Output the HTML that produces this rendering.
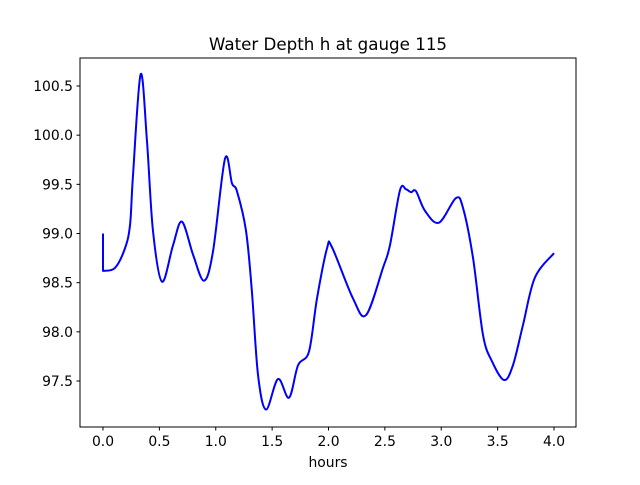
<!DOCTYPE html>
<html><head><meta charset="utf-8"><style>
body{margin:0;background:#fff}
svg text{font-family:"DejaVu Sans","Liberation Sans",sans-serif;fill:#000}
</style></head><body>
<svg id="chart" width="640" height="480">
<rect width="640" height="480" fill="#fff"/>
<text x="328" y="50" text-anchor="middle" font-size="16.7">Water Depth h at gauge 115</text>
<g id="ticks"></g>
<path id="line" fill="none" stroke="#0000ff" stroke-width="2" stroke-linejoin="round"/>
<rect x="80" y="58" width="496" height="369" fill="none" stroke="#000" stroke-width="1"/>
<text x="328" y="467" text-anchor="middle" font-size="13.9">hours</text>
</svg>
<script>
const hours=[0,0,0.106,0.195,0.24,0.266,0.334,0.39,0.443,0.523,0.621,0.70,0.80,0.896,0.976,1.082,1.144,1.188,1.268,1.32,1.375,1.446,1.552,1.65,1.73,1.827,1.898,1.987,2.031,2.217,2.333,2.483,2.545,2.634,2.687,2.732,2.776,2.856,2.98,3.13,3.193,3.282,3.37,3.45,3.557,3.636,3.725,3.83,4.0];
const depth=[99.0,98.62,98.65,98.85,99.09,99.59,100.62,99.94,99.03,98.51,98.88,99.12,98.78,98.52,98.82,99.76,99.51,99.43,99.03,98.42,97.56,97.21,97.52,97.33,97.66,97.80,98.34,98.85,98.86,98.34,98.17,98.65,98.88,99.44,99.45,99.42,99.43,99.23,99.11,99.36,99.26,98.75,97.97,97.70,97.51,97.66,98.07,98.55,98.80];
const xTicks=[0,0.5,1,1.5,2,2.5,3,3.5,4];
const yTicks=[97.5,98,98.5,99,99.5,100,100.5];
const X=v=>103+v*112.75;
const Y=v=>86+(100.5-v)*98.33;
const ns="http://www.w3.org/2000/svg";
const g=document.getElementById('ticks');
function mk(t,a){const e=document.createElementNS(ns,t);for(const k in a)e.setAttribute(k,a[k]);g.appendChild(e);return e;}
xTicks.forEach(v=>{
 const l=mk('line',{x1:X(v),x2:X(v),y1:427,y2:430.5,stroke:'#000'});
 
 
 const t=mk('text',{x:X(v),y:446,'text-anchor':'middle','font-size':'13.9'});
 
 
 t.textContent=v.toFixed(1);
});
yTicks.forEach(v=>{
 const l=mk('line',{x1:76.5,x2:80,y1:Y(v),y2:Y(v),stroke:'#000'});
 
 
 const t=mk('text',{x:73,y:Y(v)+5,'text-anchor':'end','font-size':'13.9'});
 
 
 t.textContent=v.toFixed(1);
});
const P=hours.map((h,i)=>[X(h),Y(depth[i])]);
let d=`M${P[0][0]},${P[0][1]} L${P[1][0]},${P[1][1]}`;
for(let i=1;i<P.length-1;i++){
 const p0=P[Math.max(1,i-1)],p1=P[i],p2=P[i+1],p3=P[Math.min(P.length-1,i+2)];
 const c1=[p1[0]+(p2[0]-p0[0])/6,p1[1]+(p2[1]-p0[1])/6];
 const c2=[p2[0]-(p3[0]-p1[0])/6,p2[1]-(p3[1]-p1[1])/6];
 d+=` C${c1[0]},${c1[1]} ${c2[0]},${c2[1]} ${p2[0]},${p2[1]}`;
}
document.getElementById('line').setAttribute('d',d);
</script>
</body></html>
